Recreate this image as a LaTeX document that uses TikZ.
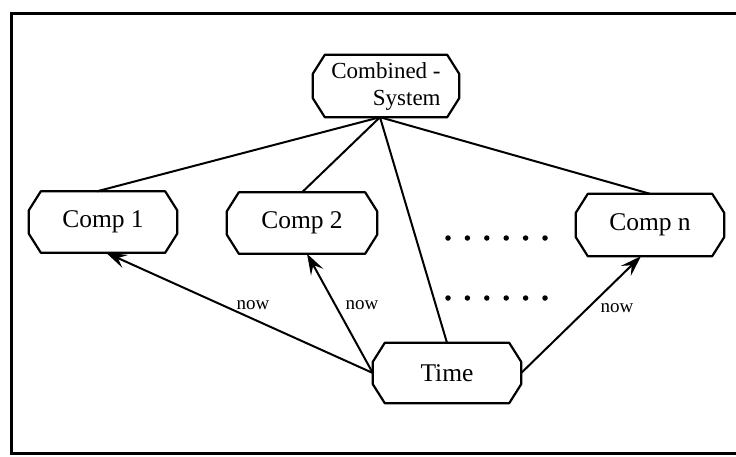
\documentclass[tikz,border=0pt]{standalone}
\usepackage{fontspec}
\setmainfont{Liberation Serif}
\usepackage{tikz}
\usetikzlibrary{positioning}
\usetikzlibrary{calc}
\usetikzlibrary{arrows.meta}

% octagonal outline round a named box
\newcommand\chamferbox[1]{%
    \draw [outline]
        ($(#1.north west)+(12,0)$) -- ($(#1.north east)+(-12,0)$)
        -- ($(#1.north east)+(0,19)$) -- ($(#1.south east)+(0,-19)$)
        -- ($(#1.south east)+(-12,0)$) -- ($(#1.south west)+(12,0)$)
        -- ($(#1.south west)+(0,-19)$) -- ($(#1.north west)+(0,19)$)
        -- cycle;}

\tikzset{
    component/.style={
        rectangle, inner sep=0pt,
        minimum width=148pt, minimum height=61pt,
        font=\fontsize{25.5}{28}\selectfont},
    outline/.style={line width=2.2pt, line join=round},
    link/.style={line width=2pt},
    clock/.style={line width=2pt, -{Stealth[length=21pt,width=14pt,inset=8pt]}},
    nowlabel/.style={inner sep=0pt, font=\fontsize{19}{22}\selectfont},
    gap dot/.style={circle, fill, inner sep=0pt, minimum size=5.5pt}
}

\begin{document}
\begin{tikzpicture}[x=1pt, y=-1pt]

% Page layout and open frame

\useasboundingbox (0,0) rectangle (736,456);
\draw [line width=3pt] (736,13) -- (11,13) -- (11,453) -- (736,453);

\node [component, align=right, minimum width=146pt, minimum height=62pt,
    font=\fontsize{23}{27}\selectfont]
    (system) at (386,86) {Combined -\\System};

\node [component] (comp one) at (103,222) {Comp 1};
\node [component, minimum width=150pt] (comp two) at (302,223) {Comp 2};
\node [component, minimum height=62pt] (comp n) at (650,225) {Comp n};
\node [component, minimum height=60pt] (time) at (447,373) {Time};

\chamferbox{system}
\chamferbox{comp one}
\chamferbox{comp two}
\chamferbox{comp n}
\chamferbox{time}

% components hang from the combined system

\draw [link] ([xshift=-6pt]system.south) -- ([xshift=-6pt]comp one.north);
\draw [link] ([xshift=-6pt]system.south) -- (comp two.north);
\draw [link] ([xshift=-6pt]system.south) -- (time.north);
\draw [link] ([xshift=-6pt]system.south) -- (comp n.north);

% time feeds every component

\draw [clock] (time.west) -- ([xshift=3pt]comp one.south);
\draw [clock] (time.west) -- ([xshift=5pt]comp two.south);
\draw [clock] (time.east) -- ([xshift=-9pt]comp n.south);

\node [nowlabel] (now one) at (253,305) {now};
\node [nowlabel] (now two) at (362,305) {now};
\node [nowlabel] (now n) at (617,308) {now};

% the components that are left out

\foreach \i in {0,...,5} {
    \node [gap dot] (upper dot \i) at (448+19.4*\i,238) {};
    \node [gap dot] (lower dot \i) at (448+19.4*\i,298) {};
}

\end{tikzpicture}
\end{document}
